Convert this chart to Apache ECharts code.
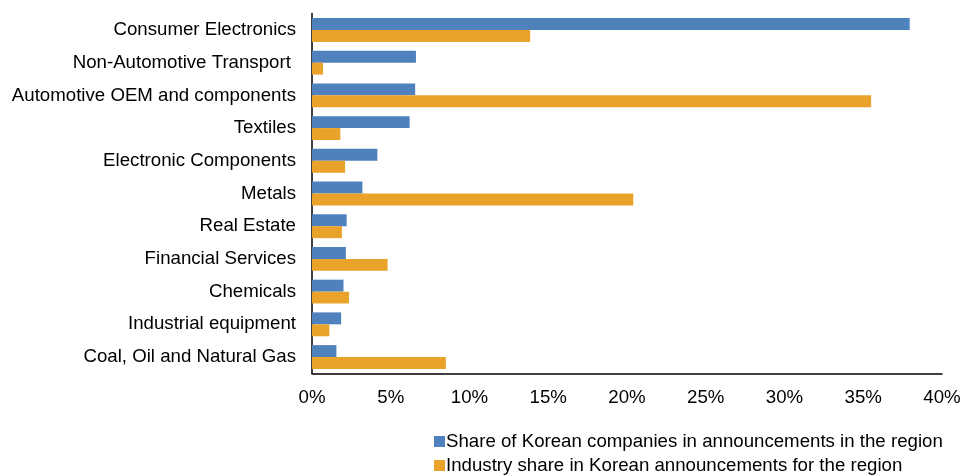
<!DOCTYPE html>
<html><head><meta charset="utf-8">
<script src="https://cdn.jsdelivr.net/npm/echarts@6/dist/echarts.min.js"></script>
<style>html,body{margin:0;padding:0;background:#fff}#c{width:962px;height:475px}</style>
</head><body><div id="c"></div>
<script>
const categories = ["Consumer Electronics","Non-Automotive Transport ","Automotive OEM and components","Textiles","Electronic Components","Metals","Real Estate","Financial Services","Chemicals","Industrial equipment","Coal, Oil and Natural Gas"];
const shareKorean = [37.95, 6.6, 6.55, 6.2, 4.15, 3.2, 2.2, 2.15, 2.0, 1.85, 1.55];
const industryShare = [13.85, 0.7, 35.5, 1.8, 2.1, 20.4, 1.9, 4.8, 2.35, 1.1, 8.5];
const seriesNames = ["Share of Korean companies in announcements in the region","Industry share in Korean announcements for the region"];
const font = "'Liberation Sans', Arial, sans-serif";
const fs = 18.67;
const legendBase = {itemWidth:11,itemHeight:11,icon:'rect',padding:0,
    textStyle:{fontFamily:font,fontSize:fs,color:'#000',padding:[0,0,0,-4]}};
const chart = echarts.init(document.getElementById('c'));
chart.setOption({
  animation:false,
  textStyle:{fontFamily:font},
  grid:{left:312,right:20,top:13.6,bottom:101.6,containLabel:false,outerBoundsMode:'none'},
  legend:[
    Object.assign({left:434,top:432,data:[seriesNames[0]]},legendBase),
    Object.assign({left:434,top:456,data:[seriesNames[1]]},legendBase)
  ],
  xAxis:{type:'value',min:0,max:40,interval:5,
    axisLine:{show:true,lineStyle:{color:'#000',width:1.5}},
    axisTick:{show:false},splitLine:{show:false},
    axisLabel:{formatter:'{value}%',fontFamily:font,fontSize:fs,color:'#000',margin:15}},
  yAxis:{type:'category',data:categories,inverse:true,
    axisLine:{show:true,lineStyle:{color:'#000',width:1.5}},
    axisTick:{show:false},
    axisLabel:{fontFamily:font,fontSize:fs,color:'#000',margin:16}},
  series:[
    {name:seriesNames[0],type:'bar',data:shareKorean,barGap:'0%',barCategoryGap:'27%',
     itemStyle:{color:'#4F81BD'}},
    {name:seriesNames[1],type:'bar',data:industryShare,barGap:'0%',barCategoryGap:'27%',
     itemStyle:{color:'#E9A32A'}}
  ]
});
</script></body></html>
